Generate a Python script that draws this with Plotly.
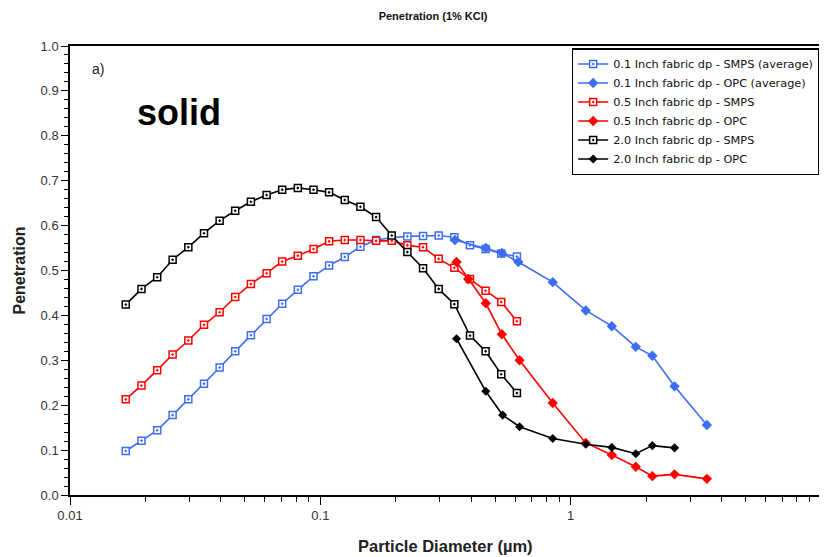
import plotly.graph_objects as go

# ---- data ----
smps_x = [0.0167, 0.0193, 0.0223, 0.0257, 0.0297, 0.0343, 0.0396, 0.0457, 0.0528,
          0.0610, 0.0704, 0.0813, 0.0939, 0.1084, 0.1252, 0.1446, 0.1670, 0.1929,
          0.2227, 0.2572, 0.2970, 0.3430, 0.3961, 0.4573, 0.5281, 0.6099]

blue_smps = [0.098, 0.121, 0.144, 0.178, 0.213, 0.248, 0.284, 0.320, 0.356, 0.392,
             0.426, 0.457, 0.487, 0.511, 0.530, 0.553, 0.568, 0.573, 0.576, 0.577,
             0.578, 0.574, 0.556, 0.548, 0.538, 0.531]
red_smps = [0.213, 0.244, 0.278, 0.313, 0.344, 0.379, 0.407, 0.441, 0.470, 0.494,
            0.520, 0.533, 0.548, 0.565, 0.568, 0.568, 0.566, 0.566, 0.556, 0.552,
            0.526, 0.506, 0.481, 0.455, 0.430, 0.387]
black_smps = [0.424, 0.459, 0.485, 0.524, 0.552, 0.583, 0.611, 0.633, 0.653, 0.668,
              0.680, 0.684, 0.680, 0.674, 0.657, 0.642, 0.619, 0.578, 0.541, 0.505,
              0.459, 0.425, 0.355, 0.320, 0.269, 0.227]

opc_x_blue = [0.345, 0.458, 0.531, 0.618, 0.848, 1.149, 1.46, 1.82, 2.12, 2.60, 3.50]
blue_opc = [0.568, 0.550, 0.539, 0.519, 0.474, 0.411, 0.376, 0.330, 0.310, 0.242, 0.156]

opc_x_red = [0.350, 0.390, 0.458, 0.531, 0.625, 0.848, 1.149, 1.46, 1.82, 2.12, 2.60, 3.50]
red_opc = [0.519, 0.481, 0.427, 0.358, 0.300, 0.205, 0.116, 0.089, 0.063, 0.042, 0.046, 0.036]

opc_x_black = [0.350, 0.458, 0.535, 0.625, 0.848, 1.149, 1.46, 1.82, 2.12, 2.60]
black_opc = [0.348, 0.231, 0.178, 0.152, 0.126, 0.113, 0.106, 0.092, 0.110, 0.105]

names = ["0.1 Inch fabric dp - SMPS (average)", "0.1 Inch fabric dp - OPC (average)",
         "0.5 Inch fabric dp - SMPS", "0.5 Inch fabric dp - OPC",
         "2.0 Inch fabric dp - SMPS", "2.0 Inch fabric dp - OPC"]

x_major = [0.01, 0.1, 1, 10]
x_major_text = ["0.01", "0.1", "1", "10"]
x_minor = [m * d for d in (0.01, 0.1, 1) for m in range(2, 10)]

BLUE = "#3D6EF2"
RED = "#FF0000"
BLACK = "#000000"
FONT = "Liberation Sans"

fig = go.Figure()

def smps(x, y, color, name):
    fig.add_trace(go.Scatter(
        x=x, y=y, name=name, mode="lines+markers",
        line=dict(color=color, width=1.6),
        marker=dict(symbol="square-dot", size=7, color="white",
                    line=dict(color=color, width=1.5))))

def opc(x, y, color, name, size=8):
    fig.add_trace(go.Scatter(
        x=x, y=y, name=name, mode="lines+markers",
        line=dict(color=color, width=1.6),
        marker=dict(symbol="diamond", size=size, color=color)))

smps(smps_x, blue_smps, BLUE, names[0])
opc(opc_x_blue, blue_opc, BLUE, names[1])
smps(smps_x, red_smps, RED, names[2])
opc(opc_x_red, red_opc, RED, names[3])
smps(smps_x, black_smps, BLACK, names[4])
opc(opc_x_black, black_opc, BLACK, names[5], size=7)

# the page body has an 8px default margin, so the figure is 8px smaller
fig.update_layout(
    width=819, height=549,
    margin=dict(l=62, r=6, t=38, b=62, autoexpand=False),
    paper_bgcolor="white", plot_bgcolor="white",
    font=dict(family=FONT, size=11, color="#222"),
    title=dict(text="<b>Penetration (1% KCl)</b>", x=0.519, xanchor="center",
               y=0.986, yanchor="middle", font=dict(size=11, color="#111")),
    showlegend=True,
    legend=dict(x=0.668, y=0.9955, xanchor="left", yanchor="top",
                bgcolor="white", bordercolor="black", borderwidth=1.5,
                font=dict(family="DejaVu Sans", size=11.3, color="#111"),
                tracegroupgap=0, itemwidth=30),
)

fig.update_xaxes(
    type="log", range=[-2, 1], automargin=False,
    tickvals=x_major, ticktext=x_major_text,
    ticks="outside", ticklen=8, tickwidth=1, tickcolor="black",
    minor=dict(tickvals=x_minor, ticks="outside", ticklen=5, tickcolor="black", tickwidth=1),
    showgrid=False, zeroline=False,
    showline=True, linecolor="black", linewidth=1.5, mirror=True,
    tickfont=dict(size=13, color="#333"),
)
fig.update_yaxes(
    range=[0, 1.0], tick0=0, dtick=0.1, tickformat=".1f", automargin=False,
    ticks="outside", ticklen=7, tickwidth=1, tickcolor="black",
    minor=dict(dtick=0.02, ticks="outside", ticklen=4, tickcolor="black", tickwidth=1),
    showgrid=False, zeroline=False,
    showline=True, linecolor="black", linewidth=1.5, mirror=True,
    tickfont=dict(size=13, color="#333"),
)

# axis titles
fig.add_annotation(xref="paper", yref="paper", x=0.5, y=-0.114, text="<b>Particle Diameter (µm)</b>",
                   showarrow=False, xanchor="center", yanchor="middle",
                   font=dict(family=FONT, size=16.5, color="#222"))
fig.add_annotation(xref="paper", yref="paper", x=-0.0666, y=0.5, text="<b>Penetration</b>",
                   showarrow=False, xanchor="center", yanchor="middle", textangle=-90,
                   font=dict(family=FONT, size=16, color="#222"))

fig.add_annotation(xref="paper", yref="paper", x=0.026, y=0.949, text="a)",
                   showarrow=False, xanchor="left", yanchor="middle",
                   font=dict(family=FONT, size=14, color="#222"))
fig.add_annotation(xref="paper", yref="paper", x=0.086, y=0.852, text="<b>solid</b>",
                   showarrow=False, xanchor="left", yanchor="middle",
                   font=dict(family=FONT, size=36, color="black"))

fig.write_html("out.html")
